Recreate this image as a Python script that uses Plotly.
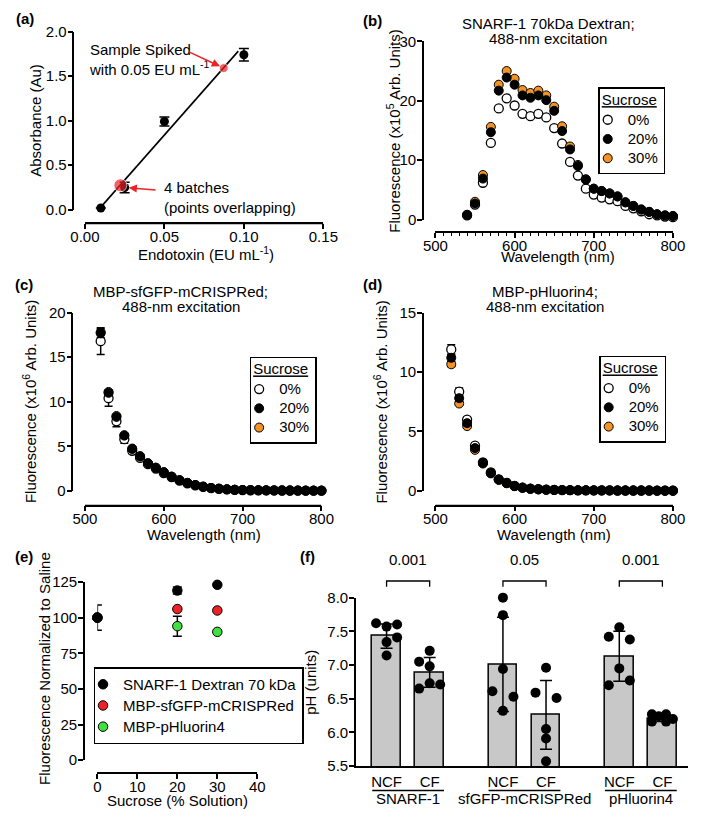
import plotly.graph_objects as go

# ======================= DATA =======================
# (a) endotoxin standard curve
endo_std_x = [0.01, 0.025, 0.05, 0.10]
endo_std_y = [0.02, 0.25, 0.99, 1.74]
endo_std_err = [None, 0.06, 0.05, 0.07]
endo_fit_x = [0.01, 0.0965]
endo_fit_y = [0.03, 1.78]
endo_sample_x = [0.0873, 0.0223]
endo_sample_y = [1.59, 0.275]

# (b) SNARF-1 70kDa dextran spectra (x10^5)
wl_b = [540, 550, 560, 570, 580, 590, 600, 610, 620, 630, 640, 650, 660, 670,
        680, 690, 700, 710, 720, 730, 740, 750, 760, 770, 780, 790, 800]
snarf_0 = [0.7, 2.5, 6.2, 12.9, 18.7, 20.4, 19.2, 17.8, 17.4, 17.8, 17.2, 15.4, 12.8, 9.7,
           7.4, 5.2, 4.2, 3.7, 3.4, 3.1, 2.3, 1.9, 1.4, 0.9, 0.7, 0.5, 0.4]
snarf_20 = [0.8, 2.7, 6.9, 14.7, 21.7, 23.9, 22.7, 20.9, 20.5, 20.9, 20.1, 18.3, 14.9, 11.8,
            9.0, 6.7, 5.2, 4.8, 4.4, 3.9, 2.9, 2.3, 1.7, 1.3, 0.9, 0.7, 0.6]
snarf_30 = [0.8, 3.0, 7.5, 15.6, 22.7, 25.0, 23.7, 21.8, 21.3, 21.7, 20.9, 19.0, 15.7, 12.3,
            9.2, 6.8, 5.2, 4.8, 4.4, 3.9, 2.9, 2.3, 1.7, 1.3, 0.9, 0.7, 0.6]

# (c) MBP-sfGFP-mCRISPRed spectra (x10^6)
wl_cd = [520, 530, 540, 550, 560, 570, 580, 590, 600, 610, 620, 630, 640, 650, 660,
         670, 680, 690, 700, 710, 720, 730, 740, 750, 760, 770, 780, 790, 800]
sfgfp_0 = [16.8, 10.4, 7.8, 5.8, 4.5, 3.7, 3.0, 2.5, 2.0, 1.55, 1.15, 0.85, 0.62, 0.45, 0.31,
           0.23, 0.17, 0.12, 0.09, 0.07, 0.06, 0.05, 0.05, 0.04, 0.04, 0.03, 0.03, 0.03, 0.02]
sfgfp_20 = [17.7, 11.0, 8.3, 6.2, 4.7, 3.85, 3.1, 2.6, 2.1, 1.6, 1.2, 0.9, 0.66, 0.48, 0.33,
            0.25, 0.18, 0.13, 0.10, 0.08, 0.07, 0.06, 0.05, 0.05, 0.04, 0.04, 0.03, 0.03, 0.03]
sfgfp_30 = [17.8, 11.1, 8.4, 6.25, 4.75, 3.9, 3.1, 2.6, 2.1, 1.6, 1.2, 0.9, 0.66, 0.48, 0.33,
            0.25, 0.18, 0.13, 0.10, 0.08, 0.07, 0.06, 0.05, 0.05, 0.04, 0.04, 0.03, 0.03, 0.03]
sfgfp_0_err = [1.5, 0.9, 0.6, 0.45, 0.3] + [None] * 24
sfgfp_20_err = [0.5, 0.3, 0.25, 0.2] + [None] * 25

# (d) MBP-pHluorin4 spectra (x10^6)
phl_0 = [11.9, 8.35, 6.0, 3.8, 2.4, 1.55, 0.97, 0.68, 0.42, 0.28, 0.19, 0.14, 0.10, 0.08, 0.07,
         0.06, 0.05, 0.05, 0.04, 0.04, 0.04, 0.03, 0.03, 0.03, 0.03, 0.03, 0.02, 0.02, 0.02]
phl_20 = [11.2, 7.8, 5.7, 3.6, 2.35, 1.5, 0.95, 0.66, 0.41, 0.27, 0.18, 0.13, 0.10, 0.08, 0.07,
          0.06, 0.05, 0.05, 0.04, 0.04, 0.04, 0.03, 0.03, 0.03, 0.03, 0.03, 0.02, 0.02, 0.02]
phl_30 = [10.65, 7.35, 5.45, 3.45, 2.3, 1.47, 0.93, 0.64, 0.40, 0.27, 0.18, 0.13, 0.10, 0.08, 0.07,
          0.06, 0.05, 0.05, 0.04, 0.04, 0.04, 0.03, 0.03, 0.03, 0.03, 0.03, 0.02, 0.02, 0.02]
phl_0_err = [0.4, 0.3, 0.2, 0.12] + [None] * 25
phl_20_err = [0.3, 0.25, 0.2] + [None] * 26
phl_30_err = [0.2, 0.15, 0.15] + [None] * 26

# (e) normalized fluorescence vs sucrose
sucrose_pct = [0, 20, 30]
norm_snarf = [100.0, 119.0, 123.0]
norm_snarf_err = [8.8, 2.5, None]
norm_sfgfp = [100.0, 106.0, 105.0]
norm_phl = [100.0, 94.0, 90.0]
norm_phl_err = [None, 7.0, None]
legend_e_names = ["SNARF-1 Dextran 70 kDa", "MBP-sfGFP-mCRISPRed", "MBP-pHluorin4"]
sucrose_levels = ["0%", "20%", "30%"]

# (f) pH in NCF vs CF
ph_groups = ["SNARF-1", "sfGFP-mCRISPRed", "pHluorin4"]
ph_conditions = ["NCF", "CF", "NCF", "CF", "NCF", "CF"]
ph_pos = [0, 1, 2.7, 3.7, 5.4, 6.4]
ph_mean = [7.43, 6.89, 7.01, 6.26, 7.13, 6.21]
ph_sd = [0.18, 0.22, 0.70, 0.51, 0.37, 0.05]
ph_points = [
    [7.62, 7.57, 7.60, 7.41, 7.34, 7.14],
    [7.21, 7.05, 6.98, 6.65, 6.73, 6.71],
    [8.00, 7.74, 6.94, 6.61, 6.53, 6.32],
    [6.96, 6.59, 6.51, 6.05, 5.91, 5.57],
    [7.56, 7.42, 7.38, 6.95, 6.70, 6.77],
    [6.27, 6.27, 6.24, 6.16, 6.16, 6.20],
]
ph_slots = [
    [-1, 0, 1, 1, 0, 0],
    [0, -1, 0, -1, 0, 1],
    [0, 0, 0, -1, 1, 0],
    [0, -1, 1, 0, 0, 0],
    [0, -1, 1, 0, -1, 1],
    [-1, 0.35, -0.35, -1, 0.35, 1],
]
ph_pvalues = ["0.001", "0.05", "0.001"]

# ======================= STYLE =======================
W, H = 709, 826
FONT = "Liberation Sans, Arial, Helvetica, sans-serif"
FS = 15
BLACK = "black"
ORANGE = "#f39325"
RED = "#ec2227"
GREEN = "#3fe03f"
GREY = "#c8c8c8"


def fx(p):
    return p / W


def fy(p):
    return 1 - p / H


def big(t):
    # legend text rendered at full size while the legend rows stay compact
    return f'<span style="font-size:{FS}px">{t}</span>'


fig = go.Figure()

# ---------------- (a) ----------------
fig.add_trace(go.Scatter(x=endo_fit_x, y=endo_fit_y, mode="lines",
                         line=dict(color=BLACK, width=1.6), xaxis="x", yaxis="y",
                         showlegend=False, hoverinfo="skip"))
fig.add_trace(go.Scatter(x=endo_std_x, y=endo_std_y, mode="markers",
                         marker=dict(color=BLACK, size=9),
                         error_y=dict(type="data", array=endo_std_err, color=BLACK,
                                      thickness=1.5, width=5),
                         xaxis="x", yaxis="y", showlegend=False, cliponaxis=False))
fig.add_trace(go.Scatter(x=endo_sample_x, y=endo_sample_y, mode="markers",
                         marker=dict(color=RED, size=[9, 13]),
                         xaxis="x", yaxis="y", showlegend=False, cliponaxis=False))


# ---------------- spectra helper ----------------
def spectra(xa, ya, wl, s0, s20, s30, e0, e20, e30, legend):
    specs = [
        (sucrose_levels[0], s0, e0, dict(color="white", line=dict(color=BLACK, width=1.3)), 1),
        (sucrose_levels[2], s30, e30, dict(color=ORANGE, line=dict(color=BLACK, width=1)), 3),
        (sucrose_levels[1], s20, e20, dict(color=BLACK, line=dict(color=BLACK, width=1)), 2),
    ]
    for name, ys, es, mk, rank in specs:
        mk = dict(mk, size=9)
        if es is not None:
            err = dict(type="data", array=es, color=BLACK, thickness=1.5, width=4)
        else:
            err = dict(visible=False)
        fig.add_trace(go.Scatter(x=wl, y=ys, name=big(name), mode="markers", marker=mk,
                                 error_y=err, xaxis=xa, yaxis=ya, legend=legend,
                                 legendrank=rank, cliponaxis=False, showlegend=True))


spectra("x2", "y2", wl_b, snarf_0, snarf_20, snarf_30, None, None, None, "legend")
spectra("x3", "y3", wl_cd, sfgfp_0, sfgfp_20, sfgfp_30, sfgfp_0_err, sfgfp_20_err, None, "legend2")
spectra("x4", "y4", wl_cd, phl_0, phl_20, phl_30, phl_0_err, phl_20_err, phl_30_err, "legend3")

# ---------------- (e) ----------------
e_specs = [
    (legend_e_names[2], norm_phl, norm_phl_err, GREEN, 3),
    (legend_e_names[1], norm_sfgfp, None, RED, 2),
    (legend_e_names[0], norm_snarf, norm_snarf_err, BLACK, 1),
]
for name, ys, es, col, rank in e_specs:
    err = dict(type="data", array=es, color=BLACK, thickness=1.5, width=4.5) if es else dict(visible=False)
    fig.add_trace(go.Scatter(x=sucrose_pct, y=ys, name=big(name), mode="markers",
                             marker=dict(color=col, size=9.5, line=dict(color=BLACK, width=1)),
                             error_y=err, xaxis="x5", yaxis="y5", legend="legend4",
                             legendrank=rank, cliponaxis=False, showlegend=True))

# ---------------- (f) ----------------
BAR_W = 0.667
JIT = 0.244
fig.add_trace(go.Bar(x=ph_pos, y=ph_mean, width=BAR_W,
                     marker=dict(color=GREY, line=dict(color=BLACK, width=1.5)),
                     error_y=dict(type="data", array=ph_sd, color=BLACK, thickness=1.5, width=6),
                     xaxis="x6", yaxis="y6", showlegend=False))
dot_x, dot_y = [], []
for p, vals, slots in zip(ph_pos, ph_points, ph_slots):
    for v, s in zip(vals, slots):
        dot_x.append(p + s * JIT)
        dot_y.append(v)
fig.add_trace(go.Scatter(x=dot_x, y=dot_y, mode="markers",
                         marker=dict(color=BLACK, size=10),
                         xaxis="x6", yaxis="y6", showlegend=False, cliponaxis=False))

# ======================= AXES =======================
tickfont = dict(family=FONT, size=FS, color=BLACK)
common = dict(showline=True, linecolor=BLACK, linewidth=1.5, ticks="outside", ticklen=5,
              tickwidth=1.5, tickcolor=BLACK, showgrid=False, zeroline=False,
              tickfont=tickfont, fixedrange=True)

shapes = []


def xfree(l, r, ypos, rng, dtick, fmt="", axname=None, **kw):
    d = dict(common, domain=[fx(l), fx(r)], range=rng, anchor="free", position=fy(ypos),
             dtick=dtick, tick0=rng[0], tickformat=fmt, ticklabelstandoff=-5)
    d.update(kw)
    # explicit detached axis line (coincides with the axis' own line)
    shapes.append(dict(type="line", xref=axname, yref="paper", x0=rng[0], x1=rng[1],
                       y0=fy(ypos), y1=fy(ypos), line=dict(color=BLACK, width=1.5)))
    return d


def yfree(t, b, xpos, rng, dtick, fmt="", **kw):
    d = dict(common, domain=[fy(b), fy(t)], range=rng, anchor="free", position=fx(xpos),
             dtick=dtick, tick0=rng[0], tickformat=fmt, ticklabelstandoff=-2)
    d.update(kw)
    return d


layout_axes = dict(
    xaxis=xfree(73, 322, 219, [0, 0.15], 0.05, ".2f", "x"),
    yaxis=yfree(23, 205, 61, [0, 2.0], 0.5, ".1f"),
    xaxis2=xfree(439, 687, 228, [500, 800], 100, "", "x2",
                 minor=dict(dtick=10, ticks="outside", ticklen=3, tickwidth=1.2, tickcolor=BLACK)),
    yaxis2=yfree(33, 215, 426, [0, 30], 10),
    xaxis3=xfree(73, 320, 507, [500, 800], 100, "", "x3"),
    yaxis3=yfree(310, 492, 60, [0, 20], 5),
    xaxis4=xfree(439, 687, 507, [500, 800], 100, "", "x4"),
    yaxis4=yfree(310, 492, 426, [0, 15], 5),
    xaxis5=xfree(86, 253, 780, [0, 40], 10, "", "x5"),
    yaxis5=yfree(585, 767, 72, [0, 125], 25),
    xaxis6=dict(common, domain=[fx(356), fx(703)], range=[-0.711, 7.0], anchor="y6",
                tickmode="array", tickvals=ph_pos, ticktext=ph_conditions, ticks="",
                ticklabelstandoff=1),
    yaxis6=dict(common, domain=[fy(773), fy(601)], range=[5.5, 8.0], anchor="x6",
                dtick=0.5, tick0=5.5, tickformat=".1f", ticklabelstandoff=-2),
)

# ======================= ANNOTATIONS =======================
ann = []


def text(x, y, t, size=FS, bold=False, angle=0, xanchor="center", yanchor="middle",
         color=BLACK, align="center"):
    if bold:
        t = "<b>" + t + "</b>"
    ann.append(dict(x=fx(x), y=fy(y), xref="paper", yref="paper", text=t, showarrow=False,
                    textangle=angle, xanchor=xanchor, yanchor=yanchor, align=align,
                    font=dict(family=FONT, size=size, color=color)))


# panel labels
text(10, 10, "(a)", bold=True)
text(373, 12, "(b)", bold=True)
text(9, 281, "(c)", bold=True)
text(373, 281, "(d)", bold=True)
text(9, 559, "(e)", bold=True)
text(305, 559, "(f)", bold=True)

# axis titles
text(22, 114, "Absorbance (Au)", angle=-90)
text(199, 250, "Endotoxin (EU mL<sup>-1</sup>)")
text(395, 125, "Fluorescence (x10<sup>5</sup> Arb. Units)", angle=-90)
text(567, 253, "Wavelength (nm)")
text(15, 401, "Fluorescence (x10<sup>6</sup> Arb. Units)", angle=-90)
text(197, 537, "Wavelength (nm)")
text(382, 401, "Fluorescence (x10<sup>6</sup> Arb. Units)", angle=-90)
text(563, 537, "Wavelength (nm)")
text(30, 673, "Fluorescence Normalized to Saline", angle=-90)
text(170, 808, "Sucrose (% Solution)")
text(309, 687, "pH (units)", angle=-90)

# panel titles
text(557, 15, "SNARF-1 70kDa Dextran;")
text(557, 30, "488-nm excitation")
text(173, 288, "MBP-sfGFP-mCRISPRed;")
text(173, 304, "488-nm excitation")
text(553, 288, "MBP-pHluorin4;")
text(553, 304, "488-nm excitation")

# (a) annotations
text(75, 52, "Sample Spiked<br>with 0.05 EU mL<sup>-1</sup>", xanchor="left", align="left")
text(153, 192, "4 batches<br>(points overlapping)", xanchor="left", align="left")
ann.append(dict(x=endo_sample_x[0], y=endo_sample_y[0], xref="x", yref="y",
                ax=0.0645, ay=1.78, axref="x", ayref="y", text="", showarrow=True,
                arrowhead=2, arrowsize=1.1, arrowwidth=1.5, arrowcolor=RED, standoff=4))
ann.append(dict(x=endo_std_x[1], y=endo_std_y[1], xref="x", yref="y",
                ax=0.0454, ay=0.22, axref="x", ayref="y", text="", showarrow=True,
                arrowhead=2, arrowsize=1.1, arrowwidth=1.5, arrowcolor=RED, standoff=4))

# (f) brackets, group underlines, group names
for gi, (name, pv) in enumerate(zip(ph_groups, ph_pvalues)):
    a, b = ph_pos[2 * gi], ph_pos[2 * gi + 1]
    shapes.append(dict(type="path", xref="x6", yref="paper",
                       path=f"M {a},{fy(590)} L {a},{fy(584)} L {b},{fy(584)} L {b},{fy(590)}",
                       line=dict(color=BLACK, width=1.3)))
    ann.append(dict(x=(a + b) / 2, y=fy(573), xref="x6", yref="paper", text=pv,
                    showarrow=False, font=dict(family=FONT, size=FS, color=BLACK)))
    shapes.append(dict(type="line", xref="x6", yref="paper",
                       x0=a - BAR_W / 2, x1=b + BAR_W / 2, y0=fy(798), y1=fy(798),
                       line=dict(color=BLACK, width=1.5)))
    ann.append(dict(x=(a + b) / 2, y=fy(817), xref="x6", yref="paper", text=name,
                    showarrow=False, font=dict(family=FONT, size=FS, color=BLACK)))


# ======================= LEGENDS =======================
def legend_cfg(left, top, row_font, title=None):
    d = dict(x=fx(left), y=fy(top), xanchor="left", yanchor="top", xref="paper", yref="paper",
             bordercolor=BLACK, borderwidth=1.5, bgcolor="white",
             font=dict(family=FONT, size=row_font, color=BLACK),
             itemwidth=30, indentation=-12, tracegroupgap=0, traceorder="normal")
    if title:
        d["title"] = dict(text=big(title), font=dict(family=FONT, size=row_font, color=BLACK))
    return d


fig.update_layout(
    width=W, height=H, margin=dict(l=0, r=0, t=0, b=0),
    paper_bgcolor="white", plot_bgcolor="white",
    font=dict(family=FONT, size=FS, color=BLACK),
    showlegend=True, bargap=0,
    legend=legend_cfg(609, 80, 12.5, "<u>Sucrose</u>"),
    legend2=legend_cfg(245, 355, 12.5, "<u>Sucrose</u>"),
    legend3=legend_cfg(610, 354, 12.5, "<u>Sucrose</u>"),
    legend4=legend_cfg(82, 672, 14),
    annotations=ann, shapes=shapes,
    **layout_axes,
)

fig.write_html("out.html", post_script="document.body.style.margin='0px';")
